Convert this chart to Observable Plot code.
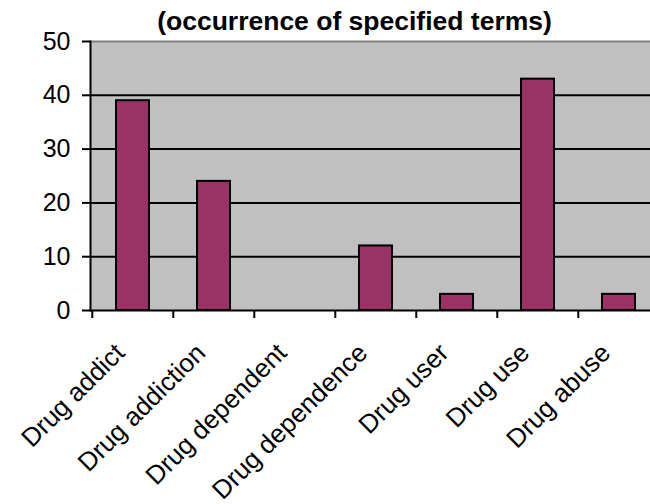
<!DOCTYPE html>
<html>
<head>
<meta charset="utf-8">
<script src="https://cdn.jsdelivr.net/npm/d3@7"></script>
<script src="https://cdn.jsdelivr.net/npm/@observablehq/plot@0.6"></script>
<style>
  html, body { margin: 0; padding: 0; background: white; overflow: hidden; }
</style>
</head>
<body>
<div id="chart"></div>
<script>
const categories = ["Drug addict", "Drug addiction", "Drug dependent", "Drug dependence", "Drug user", "Drug use", "Drug abuse"];
const counts = [39, 24, 0, 12, 3, 43, 3];
const yTicks = [0, 10, 20, 30, 40, 50];
const gridValues = [0, 10, 20, 30, 40];
const titleText = "(occurrence of specified terms)";

const data = categories.map((c, i) => ({term: c, count: counts[i]}));

const W = 650, H = 504;
const xRange = [90, 660];
const step = (xRange[1] - xRange[0]) / categories.length;
const FONT = "'Liberation Sans', Arial, sans-serif";

const chart = Plot.plot({
  width: W,
  height: H,
  marginLeft: 90,
  marginRight: 0,
  marginTop: 41,
  marginBottom: 194,
  style: {fontFamily: FONT, background: "white", color: "black", overflow: "hidden"},
  x: {domain: categories, range: xRange, paddingInner: 0.595, paddingOuter: 0.2975},
  y: {domain: [0, 50]},
  marks: [
    Plot.frame({fill: "#C0C0C0"}),
    Plot.frame({anchor: "top", stroke: "#808080", strokeWidth: 2}),
    Plot.ruleY(gridValues, {stroke: "black", strokeWidth: 2}),
    Plot.frame({anchor: "left", stroke: "black", strokeWidth: 2}),
    Plot.barY(data, {x: "term", y: "count", fill: "#993366", stroke: "black", strokeWidth: 2}),
    Plot.axisY(yTicks, {tickSize: 8, tickPadding: 12, fontSize: 25, strokeWidth: 2, stroke: "black", fill: "black", label: null}),
    Plot.axisX({tickSize: 8, tickFormat: () => "", strokeWidth: 2, stroke: "black", dx: -step / 2, label: null}),
    Plot.text(categories, {x: d => d, frameAnchor: "bottom", rotate: -45, textAnchor: "end", lineAnchor: "bottom", dx: -7, dy: 44, fontSize: 26, fill: "black"}),
    Plot.text([titleText], {frameAnchor: "top", lineAnchor: "bottom", dx: -16, dy: -12, fontSize: 26.5, fontWeight: "bold", fill: "black"})
  ]
});
document.getElementById("chart").appendChild(chart);
</script>
</body>
</html>
